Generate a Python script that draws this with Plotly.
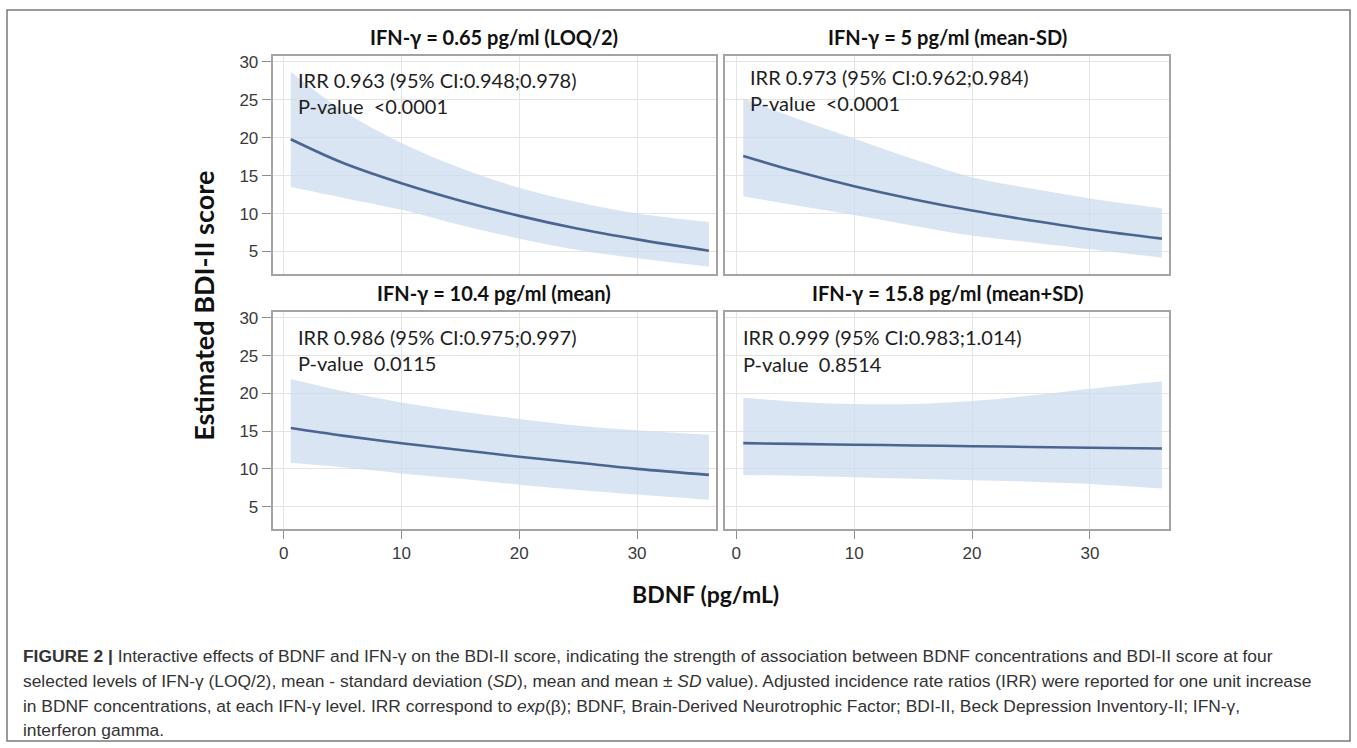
import plotly.graph_objects as go

# BDNF grid (pg/mL) at which the model predictions are shown
bdnf = [0.6, 5, 10, 15, 20, 25, 30, 36.1]

# Estimated BDI-II score and 95% band, IFN-gamma = 0.65 pg/ml (LOQ/2)
fit_loq = [19.8, 16.7, 14.0, 11.7, 9.7, 8.0, 6.6, 5.1]
upper_loq = [28.7, 23.6, 19.3, 16.0, 13.4, 11.5, 10.0, 8.9]
lower_loq = [13.5, 12.1, 10.5, 8.5, 6.7, 5.2, 4.1, 3.0]

# IFN-gamma = 5 pg/ml (mean-SD)
fit_msd = [17.6, 15.6, 13.6, 11.9, 10.4, 9.1, 7.9, 6.7]
upper_msd = [25.2, 22.6, 19.9, 17.2, 14.8, 13.3, 12.0, 10.7]
lower_msd = [12.3, 11.1, 9.8, 8.4, 7.1, 6.2, 5.3, 4.2]

# IFN-gamma = 10.4 pg/ml (mean)
fit_mean = [15.4, 14.4, 13.4, 12.5, 11.6, 10.8, 10.0, 9.2]
upper_mean = [21.9, 20.3, 18.8, 17.6, 16.6, 15.7, 15.1, 14.5]
lower_mean = [10.8, 10.2, 9.4, 8.7, 7.9, 7.2, 6.6, 5.9]

# IFN-gamma = 15.8 pg/ml (mean+SD)
fit_psd = [13.4, 13.3, 13.2, 13.1, 13.0, 12.9, 12.8, 12.7]
upper_psd = [19.4, 18.9, 18.6, 18.6, 19.0, 19.7, 20.6, 21.6]
lower_psd = [9.2, 9.1, 8.9, 8.7, 8.5, 8.3, 8.0, 7.4]

panel_titles = [
    "IFN-γ = 0.65 pg/ml (LOQ/2)",
    "IFN-γ = 5 pg/ml (mean-SD)",
    "IFN-γ = 10.4 pg/ml (mean)",
    "IFN-γ = 15.8 pg/ml (mean+SD)",
]
irr_labels = [
    "IRR 0.963 (95% CI:0.948;0.978)",
    "IRR 0.973 (95% CI:0.962;0.984)",
    "IRR 0.986 (95% CI:0.975;0.997)",
    "IRR 0.999 (95% CI:0.983;1.014)",
]
p_labels = [
    "P-value  &lt;0.0001",
    "P-value  &lt;0.0001",
    "P-value  0.0115",
    "P-value  0.8514",
]
y_ticks = [5, 10, 15, 20, 25, 30]
x_ticks = [0, 10, 20, 30]

caption_lines = [
    "<b>FIGURE 2 |</b> Interactive effects of BDNF and IFN-γ on the BDI-II score, indicating the strength of association between BDNF concentrations and BDI-II score at four",
    "selected levels of IFN-γ (LOQ/2), mean - standard deviation (<i>SD</i>), mean and mean ± <i>SD</i> value). Adjusted incidence rate ratios (IRR) were reported for one unit increase",
    "in BDNF concentrations, at each IFN-γ level. IRR correspond to <i>exp</i>(β); BDNF, Brain-Derived Neurotrophic Factor; BDI-II, Beck Depression Inventory-II; IFN-γ,",
    "interferon gamma.",
]

W, H = 1357, 748
LINE = "#4a6590"
BAND = "rgba(203,219,238,0.72)"
TITLE_FONT = "Lato, Open Sans, sans-serif"
TICK_FONT = "Liberation Sans Narrow, Arial Narrow, Liberation Sans, sans-serif"
CAP_FONT = "Liberation Sans Narrow, Arial Narrow, Liberation Sans, sans-serif"


def px_x(p):
    return p / W


def px_y(p):
    return 1 - p / H


# panel geometry in pixels: (left, right, top, bottom)
panels = [
    (272.5, 716, 53, 272),
    (725, 1169, 53, 272),
    (272.5, 716, 310, 528),
    (725, 1169, 310, 528),
]
series = [
    (fit_loq, upper_loq, lower_loq),
    (fit_msd, upper_msd, lower_msd),
    (fit_mean, upper_mean, lower_mean),
    (fit_psd, upper_psd, lower_psd),
]
text_pos = [(296, 77, 103), (748, 74, 100), (296, 335, 361), (741, 335, 362)]

fig = go.Figure()
layout = dict(
    width=W,
    height=H,
    autosize=False,
    margin=dict(l=0, r=0, t=0, b=0),
    paper_bgcolor="white",
    plot_bgcolor="white",
    showlegend=False,
    annotations=[],
    shapes=[],
)

for i, (fit, up, lo) in enumerate(series):
    k = "" if i == 0 else str(i + 1)
    xa, ya = "x" + k, "y" + k
    fig.add_trace(go.Scatter(x=bdnf, y=lo, xaxis=xa, yaxis=ya, mode="lines",
                             line=dict(width=0, shape="spline", color=BAND),
                             hoverinfo="skip"))
    fig.add_trace(go.Scatter(x=bdnf, y=up, xaxis=xa, yaxis=ya, mode="lines",
                             line=dict(width=0, shape="spline", color=BAND),
                             fill="tonexty", fillcolor=BAND, hoverinfo="skip"))
    fig.add_trace(go.Scatter(x=bdnf, y=fit, xaxis=xa, yaxis=ya, mode="lines",
                             line=dict(width=2.6, shape="spline", color=LINE)))

    l, r, t, b = panels[i]
    left_col = i in (0, 2)
    bottom_row = i in (2, 3)
    layout["xaxis" + k] = dict(
        domain=[px_x(l), px_x(r)], anchor=ya, range=[-0.95, 36.7],
        tickvals=x_ticks, showticklabels=bottom_row,
        ticks="outside" if bottom_row else "", ticklen=8, tickwidth=1.2,
        tickcolor="#8c8c8c",
        tickfont=dict(family=TICK_FONT, size=17, color="#3a3a3a"),
        showgrid=True, gridcolor="#e4e4e4", gridwidth=1, zeroline=False,
        showline=True, linecolor="#a3a3a3", linewidth=1.6, mirror=True,
        fixedrange=True,
    )
    layout["yaxis" + k] = dict(
        domain=[px_y(b), px_y(t)], anchor=xa, range=[2.05, 30.8],
        tickvals=y_ticks, showticklabels=left_col,
        ticks="outside" if left_col else "", ticklen=9, tickwidth=1.2,
        tickcolor="#8c8c8c",
        tickfont=dict(family=TICK_FONT, size=17, color="#3a3a3a"),
        showgrid=True, gridcolor="#e4e4e4", gridwidth=1, zeroline=False,
        showline=True, linecolor="#a3a3a3", linewidth=1.6, mirror=True,
        fixedrange=True,
    )

    # panel heading
    layout["annotations"].append(dict(
        text="<b>" + panel_titles[i] + "</b>", xref="paper", yref="paper",
        x=px_x((l + r) / 2), y=px_y(t - 19), xanchor="center", yanchor="middle",
        showarrow=False, font=dict(family=TITLE_FONT, size=20, color="#111111")))
    # IRR and P-value text
    tx, ty1, ty2 = text_pos[i]
    for txt, ty in ((irr_labels[i], ty1), (p_labels[i], ty2)):
        layout["annotations"].append(dict(
            text=txt, xref="paper", yref="paper", x=px_x(tx), y=px_y(ty),
            xanchor="left", yanchor="middle", showarrow=False,
            font=dict(family=TITLE_FONT, size=20, color="#1e1e1e")))

# shared axis titles
layout["annotations"].append(dict(
    text="<b>Estimated BDI-II score</b>", xref="paper", yref="paper",
    x=px_x(204), y=px_y(304), textangle=-90, xanchor="center", yanchor="middle",
    showarrow=False, font=dict(family=TITLE_FONT, size=27, color="#111111")))
layout["annotations"].append(dict(
    text="<b>BDNF (pg/mL)</b>", xref="paper", yref="paper",
    x=px_x(705), y=px_y(593), xanchor="center", yanchor="middle",
    showarrow=False, font=dict(family=TITLE_FONT, size=23, color="#111111")))

# figure legend text below the panels
for j, line in enumerate(caption_lines):
    layout["annotations"].append(dict(
        text=line, xref="paper", yref="paper", x=px_x(21), y=px_y(656 + 24.7 * j),
        xanchor="left", yanchor="middle", showarrow=False,
        font=dict(family=CAP_FONT, size=17.4, color="#333333")))

# frame around the whole figure
layout["shapes"].append(dict(
    type="rect", xref="paper", yref="paper",
    x0=px_x(7), x1=px_x(1350), y0=px_y(741), y1=px_y(7),
    line=dict(color="#7a7a7a", width=1.5), fillcolor="rgba(0,0,0,0)"))

fig.update_layout(**layout)
fig.write_html("out.html")
